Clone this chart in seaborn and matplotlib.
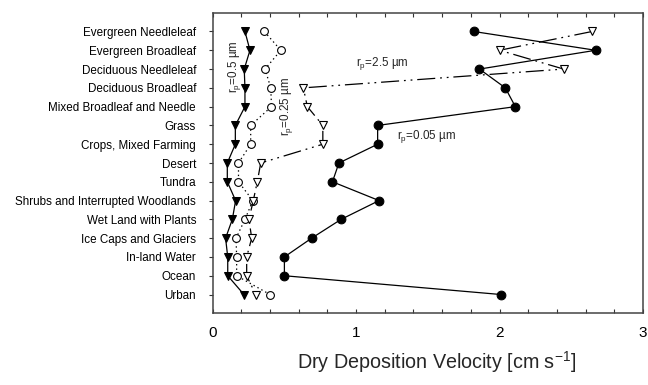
import numpy as np
import pandas as pd
import matplotlib
matplotlib.use("Agg")
import matplotlib.pyplot as plt
import seaborn as sns
from matplotlib.ticker import MultipleLocator

categories = ["Evergreen Needleleaf", "Evergreen Broadleaf", "Deciduous Needleleaf",
              "Deciduous Broadleaf", "Mixed Broadleaf and Needle", "Grass",
              "Crops, Mixed Farming", "Desert", "Tundra",
              "Shrubs and Interrupted Woodlands", "Wet Land with Plants",
              "Ice Caps and Glaciers", "In-land Water", "Ocean", "Urban"]

vd_005 = [1.82, 2.67, 1.86, 2.04, 2.11, 1.15, 1.15, 0.88, 0.835, 1.16, 0.895, 0.69, 0.50, 0.50, 2.01]
vd_025 = [0.36, 0.475, 0.365, 0.405, 0.41, 0.265, 0.265, 0.18, 0.18, 0.28, 0.225, 0.163, 0.167, 0.167, 0.40]
vd_05 = [0.225, 0.26, 0.22, 0.225, 0.225, 0.158, 0.158, 0.102, 0.102, 0.16, 0.137, 0.09, 0.105, 0.105, 0.218]
vd_25 = [2.645, 2.0, 2.447, 0.632, 0.66, 0.768, 0.768, 0.335, 0.311, 0.283, 0.253, 0.272, 0.237, 0.237, 0.30]

sns.set_theme(style="ticks")
plt.rcParams['font.family'] = ['Liberation Sans', 'DejaVu Sans']
plt.rcParams['mathtext.fontset'] = 'custom'
plt.rcParams['mathtext.rm'] = 'Liberation Sans'
plt.rcParams['lines.scale_dashes'] = False

fig = plt.figure(figsize=(6.48, 3.85), dpi=100)
ax = fig.add_axes([0.3282, 0.1862, 0.6641, 0.7808])

pos = np.arange(len(categories))
df = pd.DataFrame({"pos": pos, "v005": vd_005, "v025": vd_025, "v05": vd_05, "v25": vd_25})

common = dict(ax=ax, y="pos", orient="y", sort=False, estimator=None, color="black", lw=0.9)

sns.lineplot(data=df, x="v05", marker="v", markersize=6, markerfacecolor="black",
             markeredgecolor="black", linestyle="-", **common)
sns.lineplot(data=df, x="v025", marker="o", markersize=5.6, markerfacecolor="white",
             markeredgecolor="black", markeredgewidth=0.8, **common)
sns.lineplot(data=df, x="v25", marker="v", markersize=6, markerfacecolor="white",
             markeredgecolor="black", markeredgewidth=0.8, **common)
sns.lineplot(data=df, x="v005", marker="o", markersize=6.3, markerfacecolor="black",
             markeredgecolor="black", linestyle="-", **common)

lines = ax.get_lines()
lines[1].set_dashes((1.0, 2.2))
lines[2].set_dashes((13, 3.5, 1.3, 3.5, 1.3, 3.5))

ax.set_xlim(0, 3)
ax.set_ylim(len(categories), -1)
ax.set_yticks(pos)
ax.set_yticklabels(categories, fontsize=8.4)
ax.xaxis.set_major_locator(MultipleLocator(1))
ax.xaxis.set_minor_locator(MultipleLocator(0.2))
ax.tick_params(axis='x', which='both', direction='in', top=True, bottom=True,
               length=3, width=0.8, labelsize=11, pad=9, colors='#333333', labelcolor='black')
ax.tick_params(axis='y', direction='out', length=3, width=0.8, pad=9, colors='#333333', labelcolor='black')
for s in ax.spines.values():
    s.set_linewidth(1.1)
    s.set_color('#444444')

ax.set_xlabel("Dry Deposition Velocity [cm s$^{-1}$]", fontsize=14.2, labelpad=7)
ax.xaxis.label.set_x(0.52)
ax.set_ylabel("")

ax.text(0.149, 1.87, r"r$_\mathregular{p}$=0.5 µm", rotation=90, ha="center", va="center", fontsize=8.4)
ax.text(0.518, 3.97, r"r$_\mathregular{p}$=0.25 µm", rotation=90, ha="center", va="center", fontsize=8.4)
ax.text(1.18, 1.70, r"r$_\mathregular{p}$=2.5 µm", ha="center", va="center", fontsize=8.4)
ax.text(1.488, 5.61, r"r$_\mathregular{p}$=0.05 µm", ha="center", va="center", fontsize=8.4)

fig.savefig("out.png", dpi=100)
